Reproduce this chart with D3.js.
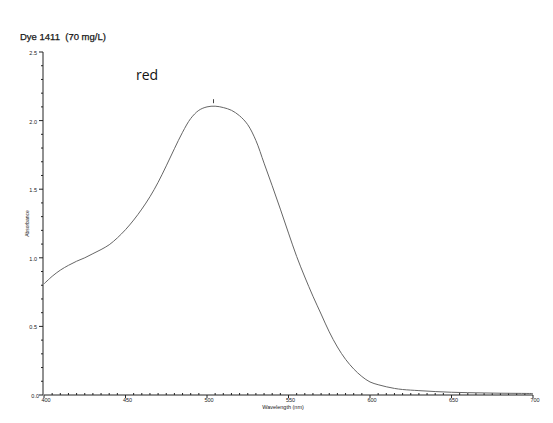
<!DOCTYPE html>
<html>
<head>
<meta charset="utf-8">
<script src="https://cdn.jsdelivr.net/npm/d3@7"></script>
<style>
  body { margin: 0; background: #fff; }
  svg { display: block; }
  .lbl { font-family: "Liberation Sans", Arial, sans-serif; fill: #222; }
</style>
</head>
<body>
<div id="chart"></div>
<script>
// spectrum
const wavelengths = [400, 405, 410, 415, 420, 425, 430, 435, 440, 445, 450, 455, 460, 465, 470, 475,
  480, 485, 490, 495, 500, 505, 510, 515, 520, 525, 530, 535, 540, 545, 550, 555, 560, 565, 570,
  575, 580, 585, 590, 595, 600, 605, 610, 615, 620, 630, 640, 650, 660, 670, 680, 690, 700];
const absorbance = [0.81, 0.865, 0.91, 0.945, 0.975, 1.00, 1.03, 1.06, 1.095, 1.145, 1.205, 1.275,
  1.355, 1.445, 1.55, 1.67, 1.795, 1.915, 2.015, 2.075, 2.10, 2.105, 2.095, 2.075, 2.035, 1.97,
  1.855, 1.69, 1.525, 1.355, 1.18, 1.01, 0.86, 0.72, 0.59, 0.46, 0.35, 0.26, 0.19, 0.135, 0.095,
  0.075, 0.06, 0.048, 0.04, 0.032, 0.025, 0.02, 0.017, 0.015, 0.013, 0.012, 0.011];
const xTicks = [400, 450, 500, 550, 600, 650, 700];
const yTicks = [0.0, 0.5, 1.0, 1.5, 2.0, 2.5];
const peakWavelength = 504;

const W = 553, H = 423;
const svg = d3.select("#chart").append("svg").attr("width", W).attr("height", H);

const x = d3.scaleLinear().domain([400, 700]).range([44, 533]);
const y = d3.scaleLinear().domain([0, 2.5]).range([395, 52]);

// title + annotation
svg.append("text").attr("class", "lbl").attr("x", 20).attr("y", 40)
  .attr("font-size", 9.5).attr("fill", "#111").style("white-space", "pre")
  .attr("stroke", "#111").attr("stroke-width", 0.25)
  .text("Dye 1411  (70 mg/L)");
svg.append("text").attr("x", 136).attr("y", 80)
  .attr("font-family", "'Open Sans', 'Noto Sans', sans-serif").attr("font-size", 14)
  .attr("fill", "#111").text("red");

// x axis: minor ticks every 5 nm pointing up, labels every 50
const xMinor = d3.range(400, 701, 5);
const gx = svg.append("g");
gx.append("line").attr("x1", x(400)).attr("x2", x(700)).attr("y1", y(0)).attr("y2", y(0))
  .attr("stroke", "#222");
gx.selectAll(".mt").data(xMinor).join("line")
  .attr("x1", d => x(d)).attr("x2", d => x(d))
  .attr("y1", y(0)).attr("y2", d => d % 50 === 0 ? y(0) + 3 : y(0) - 2)
  .attr("stroke", "#222");
gx.selectAll(".xl").data(xTicks).join("text")
  .attr("class", "lbl").attr("x", d => x(d) + 2).attr("y", 402)
  .attr("font-size", 5.5).attr("text-anchor", "middle").text(d => d);
svg.append("text").attr("class", "lbl").attr("x", 283).attr("y", 409)
  .attr("font-size", 5.5).attr("text-anchor", "middle").text("Wavelength (nm)");

// y axis: minor ticks every 0.1 pointing left
const yMinor = d3.range(0, 26).map(i => i / 10);
const gy = svg.append("g");
gy.append("line").attr("x1", x(400) - 1).attr("x2", x(400) - 1).attr("y1", y(0)).attr("y2", y(2.5))
  .attr("stroke", "#222");
gy.selectAll(".my").data(yMinor).join("line")
  .attr("x1", x(400) - 1).attr("x2", (d, i) => i % 5 === 0 ? x(400) - 5 : x(400) - 3)
  .attr("y1", d => y(d)).attr("y2", d => y(d))
  .attr("stroke", "#222");
gy.selectAll(".yl").data(yTicks).join("text")
  .attr("class", "lbl").attr("x", (d) => d === 0 ? 39 : 37).attr("y", d => y(d) + 3)
  .attr("font-size", 5.5).attr("text-anchor", "end").text(d => d.toFixed(1));
svg.append("text").attr("class", "lbl")
  .attr("transform", `translate(29,${y(1.25)}) rotate(-90)`)
  .attr("font-size", 5).attr("text-anchor", "middle").text("Absorbance");

// spectrum
const line = d3.line().x((d, i) => x(wavelengths[i])).y(d => y(d)).curve(d3.curveCatmullRom);
svg.append("path").datum(absorbance).attr("d", line)
  .attr("fill", "none").attr("stroke", "#666").attr("stroke-width", 1);

// peak marker
const peakA = d3.max(absorbance);
svg.append("line").attr("x1", x(peakWavelength)).attr("x2", x(peakWavelength))
  .attr("y1", y(peakA) - 3).attr("y2", y(peakA) - 7).attr("stroke", "#444");
</script>
</body>
</html>
